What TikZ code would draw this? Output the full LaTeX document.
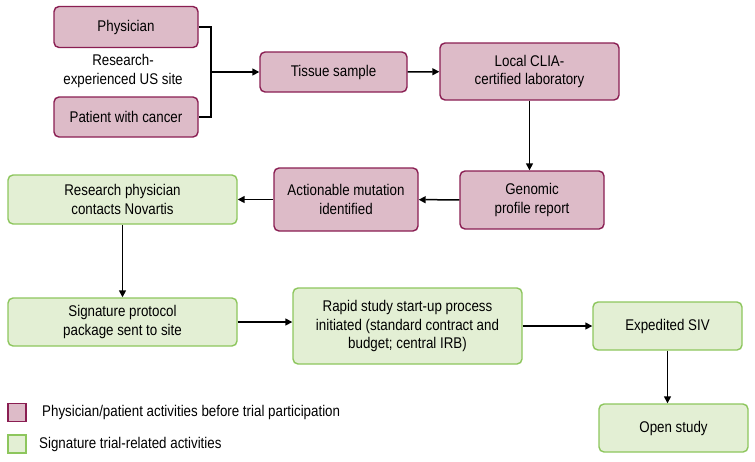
\documentclass[tikz,border=0pt]{standalone}
\usepackage{fontspec}
\setmainfont{Liberation Sans}[FakeStretch=0.86]
\usetikzlibrary{arrows.meta}
\definecolor{pinkfill}{RGB}{221,187,200}
\definecolor{pinkline}{RGB}{138,30,82}
\definecolor{greenfill}{RGB}{227,239,212}
\definecolor{greenline}{RGB}{141,198,93}
\tikzset{
  prebox/.style={rectangle,rounded corners=5pt,draw=pinkline,fill=pinkfill,line width=1.4pt,align=center,inner sep=0pt},
  trialbox/.style={rectangle,rounded corners=5pt,draw=greenline,fill=greenfill,line width=1.4pt,align=center,inner sep=0pt},
  flow/.style={line width=1.5pt,-{Triangle[length=7pt,width=7pt]}}
}
\begin{document}
\begin{tikzpicture}[x=1pt,y=-1pt,font=\fontsize{15.5}{18.5}\selectfont]
\useasboundingbox (0,0) rectangle (755,461);

\node (phys) at (126,27) [prebox,minimum width=144,minimum height=41]{Physician};
\node (pat) at (126,117) [prebox,minimum width=144,minimum height=40]{Patient with cancer};
\node (site) at (123,71) [align=center]{Research-\\experienced US site};
\node (tissue) at (333.5,72) [prebox,minimum width=147,minimum height=40]{Tissue sample};
\node (lab) at (529.5,71.5) [prebox,minimum width=179,minimum height=57]{Local CLIA-\\certified laboratory};
\node (geno) at (532,200) [prebox,minimum width=144,minimum height=58]{Genomic\\profile report};
\node (mut) at (346,199.5) [prebox,minimum width=144,minimum height=63]{Actionable mutation\\identified};
\node (contact) at (122.5,199.5) [trialbox,minimum width=229,minimum height=49]{Research physician\\contacts Novartis};
\node (package) at (122.5,322) [trialbox,minimum width=229,minimum height=48]{Signature protocol\\package sent to site};
\node (rapid) at (407.5,326) [trialbox,minimum width=229,minimum height=76]{Rapid study start-up process\\initiated (standard contract and\\budget; central IRB)};
\node (siv) at (667.5,326) [trialbox,minimum width=149,minimum height=48]{Expedited SIV};
\node (open) at (673.5,428) [trialbox,minimum width=149,minimum height=48]{Open study};

% legend
\node (keypre) at (17,412.5) [prebox,rounded corners=0pt,minimum width=18,minimum height=18]{};
\node (keytrial) at (17,444) [trialbox,rounded corners=0pt,minimum width=18,minimum height=18]{};
\node (keypretext) at (keypre.east) [anchor=west,xshift=12]{Physician/patient activities before trial participation};
\node (keytrialtext) at (keytrial.east) [anchor=west,xshift=9]{Signature trial-related activities};

\coordinate (join) at (211,72);
\draw[line width=1.5pt] (phys.east) -| (join) |- (pat.east);
\draw[flow] (join) -- (tissue.west);
\draw[flow] (tissue) -- (lab);
\draw[flow] (lab.south) -- (lab.south|-geno.north);
\draw[flow] (geno) -- (mut);
\draw[flow] (mut) -- (contact);
\draw[flow] (contact.south) -- (package.north);
\draw[flow] (package.east) -- (package.east-|rapid.west);
\draw[flow] (rapid.east) -- (rapid.east-|siv.west);
\draw[flow] (siv.south) -- (siv.south|-open.north);

\end{tikzpicture}
\end{document}
